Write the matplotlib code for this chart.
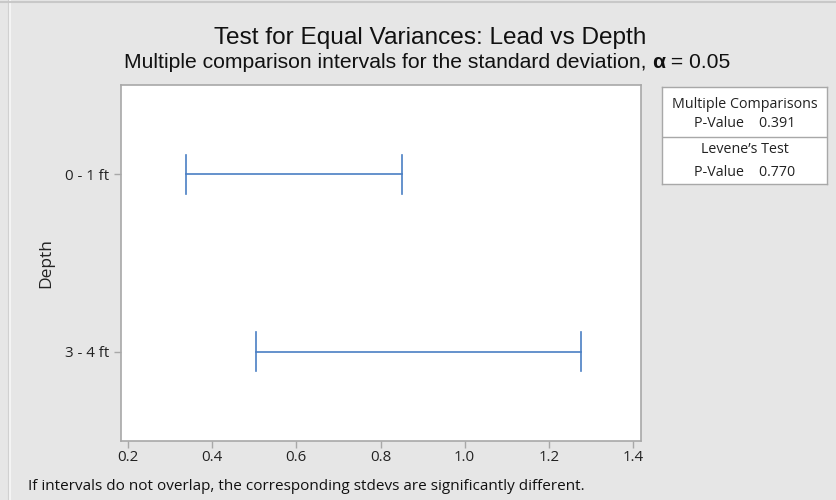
import matplotlib.pyplot as plt
from matplotlib.lines import Line2D

# data
depths = ['0 - 1 ft', '3 - 4 ft']
lower = [0.337, 0.503]
upper = [0.850, 1.277]
mc_pvalue = 0.391
levene_pvalue = 0.770
xticks = [0.2, 0.4, 0.6, 0.8, 1.0, 1.2, 1.4]

bg = '#e6e6e6'
blue = '#4a7fc4'
grey = '#a8a8a8'
body_font = ['Open Sans', 'DejaVu Sans']

plt.rcParams['font.family'] = ['Liberation Sans', 'DejaVu Sans']

fig = plt.figure(figsize=(8.36, 5), dpi=100, facecolor=bg)

# window edges
fig.add_artist(Line2D([9.5 / 836, 9.5 / 836], [0, 1], color='#f4f4f4', lw=1.5))
fig.add_artist(Line2D([8 / 836, 8 / 836], [0, 1], color='#d0d0d0', lw=0.8))
fig.add_artist(Line2D([0, 1], [1 - 1.5 / 500, 1 - 1.5 / 500], color='#c8c8c8', lw=1.5))

ax = fig.add_axes([0.1451, 0.1186, 0.6216, 0.7108])
ax.set_facecolor('white')

ypos = list(range(1, len(depths) + 1))
for y, lo, hi in zip(ypos, lower, upper):
    ax.plot([lo, hi], [y, y], color=blue, lw=1.2)
    ax.plot([lo, lo], [y - 0.11, y + 0.11], color=blue, lw=1.2)
    ax.plot([hi, hi], [y - 0.11, y + 0.11], color=blue, lw=1.2)

ax.set_xlim(0.184, 1.419)
ax.set_ylim(2.5, 0.5)
ax.set_xticks(xticks)
ax.set_xticklabels([f'{t:.1f}' for t in xticks], fontsize=10.8, color='#222222', family=body_font)
ax.set_yticks(ypos)
ax.set_yticklabels(depths, fontsize=10.8, color='#222222', family=body_font)
ax.tick_params(axis='both', color=grey, length=5, width=1)
ax.tick_params(axis='x', pad=2)
for s in ax.spines.values():
    s.set_color(grey)
    s.set_linewidth(1.2)
ax.set_ylabel('Depth', fontsize=12.5, color='#222222', labelpad=8, family=body_font)

# titles
fig.text(0.514, 1 - 38 / 500, 'Test for Equal Variances: Lead vs Depth',
         ha='center', va='center', fontsize=17.6, color='#111111')

fig.canvas.draw()
r = fig.canvas.get_renderer()
parts = [('Multiple comparison intervals for the standard deviation, ', 'normal'),
         ('\u03b1', 'bold'), (' = 0.05', 'normal')]
texts = []
for s, w in parts:
    t = fig.text(0, 1 - 62 / 500, s, ha='left', va='center', fontsize=15.2,
                 fontweight=w, color='#111111')
    texts.append(t)
widths = [t.get_window_extent(r).width for t in texts]
total = sum(widths)
x0 = 427 - total / 2
for t, w in zip(texts, widths):
    t.set_x(x0 / 836)
    x0 += w

# p-value table
top, bot = 86.7, 184
hgt = bot - top
tab = fig.add_axes([661.7 / 836, 1 - bot / 500, (827.3 - 661.7) / 836, hgt / 500])
tab.set_facecolor('white')
tab.set_xticks([])
tab.set_yticks([])
for s in tab.spines.values():
    s.set_color(grey)
    s.set_linewidth(1)
tab.set_xlim(0, 1)
tab.set_ylim(1, 0)
tab.axhline((136.5 - top) / hgt, color=grey, lw=1)
rows = [('Multiple Comparisons', 104.5),
        (f'P-Value    {mc_pvalue:.3f}', 123.5),
        ('Levene\u2019s Test', 149.5),
        (f'P-Value    {levene_pvalue:.3f}', 172.5)]
for s, yy in rows:
    tab.text(0.5, (yy - top) / hgt, s, ha='center', va='center', fontsize=10.3,
             family=body_font, color='#222222')

fig.text(28 / 836, 1 - 487 / 500,
         'If intervals do not overlap, the corresponding stdevs are significantly different.',
         ha='left', va='center', fontsize=11, color='#111111', family=body_font)

fig.savefig('out.png', dpi=100, facecolor=bg)
